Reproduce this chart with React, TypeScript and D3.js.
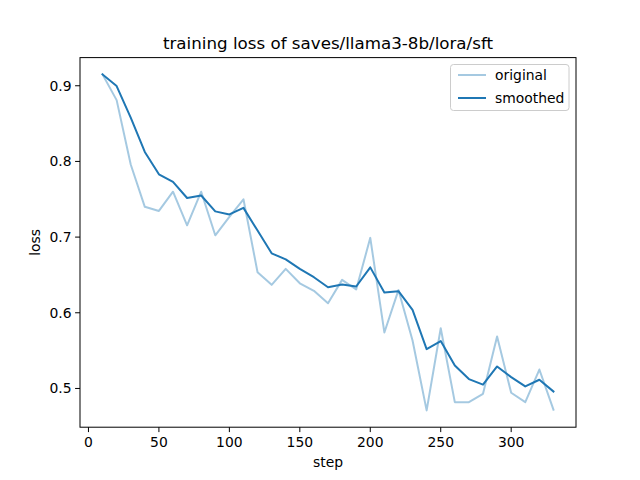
import React from "react";
import * as d3 from "d3";

const steps = [10,20,30,40,50,60,70,80,90,100,110,120,130,140,150,160,170,180,190,200,210,220,230,240,250,260,270,280,290,300,310,320,330];
const original = [0.915,0.881,0.796,0.740,0.7346,0.760,0.7156,0.760,0.7024,0.7267,0.750,0.6535,0.6369,0.658,0.639,0.629,0.6126,0.6435,0.6307,0.699,0.574,0.630,0.5634,0.471,0.5796,0.4819,0.4819,0.4929,0.5687,0.4943,0.4819,0.525,0.4719];
const smoothed = [0.915,0.8996,0.858,0.8125,0.783,0.773,0.7517,0.755,0.734,0.730,0.7386,0.7086,0.6786,0.6705,0.658,0.647,0.6337,0.6373,0.6347,0.660,0.6268,0.6285,0.6039,0.552,0.5626,0.5304,0.5124,0.505,0.5291,0.515,0.5027,0.5115,0.496];
const xTicks = [0,50,100,150,200,250,300];
const yTicks = [0.5,0.6,0.7,0.8,0.9];
const title = "training loss of saves/llama3-8b/lora/sft";
const legendLabels = ["original", "smoothed"];

export default function App() {
  const W = 640, H = 480;
  const L = 80, R = 576, T = 57.6, B = 427.2;
  const xmin = d3.min(steps)!, xmax = d3.max(steps)!;
  const xm = (xmax - xmin) * 0.05;
  const all = original.concat(smoothed);
  const ymin = d3.min(all)!, ymax = d3.max(all)!;
  const ym = (ymax - ymin) * 0.05;
  const x = d3.scaleLinear().domain([xmin - xm, xmax + xm]).range([L, R]);
  const y = d3.scaleLinear().domain([ymin - ym, ymax + ym]).range([B, T]);
  const line = d3.line<number>().x((_, i) => x(steps[i])).y((d) => y(d));
  const blue = "#1f77b4";
  const font = "DejaVu Sans, sans-serif";
  const fs = 13.9;
  return (
    <svg width={W} height={H} style={{ position: "absolute", left: 0, top: 0 }} fontFamily={font}>
      <rect x={0} y={0} width={W} height={H} fill="white" />
      <defs>
        <clipPath id="clip"><rect x={L} y={T} width={R - L} height={B - T} /></clipPath>
      </defs>
      <g clipPath="url(#clip)">
        <path d={line(original) || ""} fill="none" stroke={blue} strokeOpacity={0.4} strokeWidth={2} strokeLinejoin="round" strokeLinecap="square" />
        <path d={line(smoothed) || ""} fill="none" stroke={blue} strokeWidth={2} strokeLinejoin="round" strokeLinecap="square" />
      </g>
      <rect x={L} y={T} width={R - L} height={B - T} fill="none" stroke="black" strokeWidth={1} />
      {xTicks.map((t) => (
        <g key={"x" + t}>
          <line x1={x(t)} x2={x(t)} y1={B} y2={B + 4.9} stroke="black" strokeWidth={1} />
          <text x={x(t)} y={B + 20} fontSize={fs} textAnchor="middle">{t}</text>
        </g>
      ))}
      {yTicks.map((t) => (
        <g key={"y" + t}>
          <line x1={L - 4.9} x2={L} y1={y(t)} y2={y(t)} stroke="black" strokeWidth={1} />
          <text x={L - 8.5} y={y(t)} dy="0.36em" fontSize={fs} textAnchor="end">{t.toFixed(1)}</text>
        </g>
      ))}
      <text x={(L + R) / 2} y={467} fontSize={fs} textAnchor="middle">step</text>
      <text transform={`translate(${40},${(T + B) / 2}) rotate(-90)`} fontSize={fs} textAnchor="middle">loss</text>
      <text x={(L + R) / 2} y={49} fontSize={16.7} textAnchor="middle">{title}</text>
      <g>
        <rect x={450.5} y={64.5} width={118.5} height={46} rx={3} fill="white" fillOpacity={0.8} stroke="#cccccc" strokeWidth={1} />
        <line x1={458} x2={486} y1={75} y2={75} stroke={blue} strokeOpacity={0.4} strokeWidth={2} />
        <text x={495} y={75} dy="0.36em" fontSize={fs}>{legendLabels[0]}</text>
        <line x1={458} x2={486} y1={98} y2={98} stroke={blue} strokeWidth={2} />
        <text x={495} y={98} dy="0.36em" fontSize={fs}>{legendLabels[1]}</text>
      </g>
    </svg>
  );
}
